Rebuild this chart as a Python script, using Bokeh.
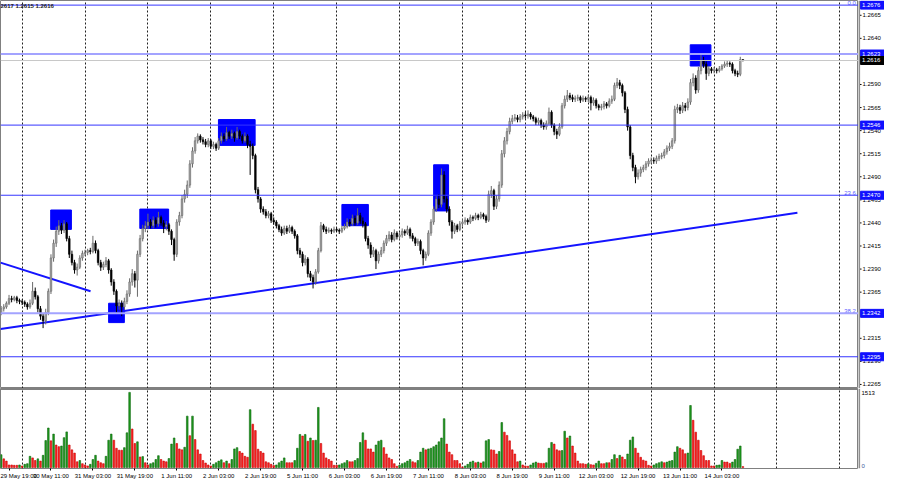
from bokeh.plotting import figure
from bokeh.layouts import column, row
from bokeh.models import (ColumnDataSource, Range1d, FixedTicker, Span, Label, Grid)
from bokeh.core.properties import value
from bokeh.embed import file_html
from bokeh.resources import INLINE

# ---------------- data (GBPUSD H1, 29 May 16:00 -> 14 Jun 11:00) ----------------
open_ = [
    1.2343, 1.2347, 1.2349, 1.2353, 1.2358, 1.2357, 1.2359, 1.2356,
    1.2355, 1.2354, 1.2352, 1.2349, 1.2353, 1.2366, 1.2360, 1.2347, 1.2339, 1.2334, 1.2343, 1.2366, 1.2402, 1.2418, 1.2431, 1.2437, 1.2432, 1.2439, 1.2423, 1.2406, 1.2397, 1.2389, 1.2392, 1.2402,
    1.2407, 1.2408, 1.2410, 1.2409, 1.2418, 1.2410, 1.2397, 1.2392, 1.2395, 1.2399, 1.2389, 1.2376, 1.2366, 1.2350, 1.2353, 1.2349, 1.2355, 1.2363, 1.2376, 1.2385, 1.2378, 1.2406, 1.2423, 1.2434,
    1.2437, 1.2441, 1.2437, 1.2443, 1.2439, 1.2446, 1.2440, 1.2436, 1.2438, 1.2431, 1.2422, 1.2406, 1.2441, 1.2448, 1.2466, 1.2471, 1.2481, 1.2504, 1.2518, 1.2529, 1.2534, 1.2530, 1.2528, 1.2525,
    1.2529, 1.2523, 1.2525, 1.2521, 1.2529, 1.2534, 1.2531, 1.2538, 1.2534, 1.2537, 1.2532, 1.2539, 1.2534, 1.2529, 1.2534, 1.2525, 1.2523, 1.2513, 1.2476, 1.2466, 1.2455, 1.2452, 1.2448, 1.2450,
    1.2443, 1.2441, 1.2437, 1.2433, 1.2429, 1.2434, 1.2431, 1.2435, 1.2431, 1.2426, 1.2410, 1.2406, 1.2397, 1.2401, 1.2385, 1.2381, 1.2376, 1.2387, 1.2410, 1.2437, 1.2433, 1.2431, 1.2432, 1.2431,
    1.2433, 1.2432, 1.2431, 1.2434, 1.2436, 1.2441, 1.2439, 1.2445, 1.2440, 1.2448, 1.2442, 1.2439, 1.2423, 1.2416, 1.2406, 1.2410, 1.2399, 1.2406, 1.2410, 1.2418, 1.2423, 1.2427, 1.2422, 1.2429,
    1.2425, 1.2427, 1.2431, 1.2429, 1.2433, 1.2426, 1.2423, 1.2418, 1.2420, 1.2410, 1.2402, 1.2406, 1.2429, 1.2441, 1.2455, 1.2466, 1.2460, 1.2492, 1.2466, 1.2455, 1.2441, 1.2431, 1.2437, 1.2433,
    1.2439, 1.2441, 1.2443, 1.2441, 1.2446, 1.2445, 1.2448, 1.2446, 1.2449, 1.2447, 1.2443, 1.2471, 1.2475, 1.2458, 1.2466, 1.2481, 1.2515, 1.2529, 1.2539, 1.2550, 1.2553, 1.2554, 1.2552, 1.2555,
    1.2557, 1.2556, 1.2558, 1.2555, 1.2553, 1.2549, 1.2551, 1.2546, 1.2544, 1.2548, 1.2560, 1.2546, 1.2539, 1.2536, 1.2544, 1.2567, 1.2574, 1.2578, 1.2576, 1.2574, 1.2575, 1.2576, 1.2573, 1.2575,
    1.2574, 1.2576, 1.2570, 1.2573, 1.2567, 1.2565, 1.2566, 1.2569, 1.2567, 1.2572, 1.2574, 1.2589, 1.2592, 1.2589, 1.2581, 1.2563, 1.2544, 1.2513, 1.2500, 1.2490, 1.2494, 1.2498, 1.2500, 1.2504,
    1.2507, 1.2508, 1.2507, 1.2510, 1.2512, 1.2513, 1.2517, 1.2521, 1.2523, 1.2529, 1.2563, 1.2565, 1.2562, 1.2567, 1.2565, 1.2571, 1.2592, 1.2597, 1.2584, 1.2605, 1.2616, 1.2612, 1.2602, 1.2607,
    1.2605, 1.2606, 1.2605, 1.2607, 1.2610, 1.2612, 1.2613, 1.2612, 1.2605, 1.2602, 1.2601, 1.2617,
]
high = [
    1.2350, 1.2352, 1.2355, 1.2362, 1.2361, 1.2361, 1.2361, 1.2358,
    1.2357, 1.2356, 1.2354, 1.2357, 1.2376, 1.2370, 1.2362, 1.2350, 1.2342, 1.2347, 1.2369, 1.2406, 1.2422, 1.2436, 1.2443, 1.2440, 1.2443, 1.2441, 1.2426, 1.2410, 1.2400, 1.2396, 1.2405, 1.2410,
    1.2411, 1.2412, 1.2413, 1.2426, 1.2421, 1.2412, 1.2400, 1.2398, 1.2403, 1.2401, 1.2391, 1.2379, 1.2368, 1.2357, 1.2356, 1.2359, 1.2367, 1.2380, 1.2390, 1.2388, 1.2410, 1.2427, 1.2438, 1.2442,
    1.2450, 1.2444, 1.2447, 1.2446, 1.2452, 1.2448, 1.2443, 1.2442, 1.2440, 1.2433, 1.2424, 1.2444, 1.2452, 1.2470, 1.2476, 1.2486, 1.2508, 1.2522, 1.2533, 1.2537, 1.2536, 1.2533, 1.2531, 1.2532,
    1.2531, 1.2528, 1.2527, 1.2532, 1.2538, 1.2537, 1.2544, 1.2540, 1.2541, 1.2539, 1.2544, 1.2541, 1.2536, 1.2538, 1.2536, 1.2529, 1.2526, 1.2515, 1.2479, 1.2468, 1.2458, 1.2455, 1.2453, 1.2452,
    1.2446, 1.2443, 1.2439, 1.2436, 1.2437, 1.2437, 1.2438, 1.2437, 1.2433, 1.2428, 1.2413, 1.2409, 1.2405, 1.2403, 1.2388, 1.2384, 1.2390, 1.2413, 1.2441, 1.2439, 1.2436, 1.2435, 1.2434, 1.2436,
    1.2435, 1.2434, 1.2437, 1.2439, 1.2445, 1.2444, 1.2449, 1.2448, 1.2456, 1.2451, 1.2446, 1.2441, 1.2426, 1.2419, 1.2414, 1.2412, 1.2409, 1.2414, 1.2421, 1.2427, 1.2431, 1.2430, 1.2433, 1.2431,
    1.2430, 1.2434, 1.2433, 1.2437, 1.2435, 1.2429, 1.2425, 1.2423, 1.2422, 1.2412, 1.2409, 1.2432, 1.2444, 1.2458, 1.2469, 1.2471, 1.2499, 1.2496, 1.2469, 1.2458, 1.2443, 1.2440, 1.2439, 1.2442,
    1.2444, 1.2446, 1.2445, 1.2449, 1.2448, 1.2451, 1.2450, 1.2452, 1.2451, 1.2449, 1.2475, 1.2480, 1.2477, 1.2470, 1.2485, 1.2519, 1.2533, 1.2543, 1.2554, 1.2557, 1.2558, 1.2557, 1.2558, 1.2560,
    1.2560, 1.2562, 1.2560, 1.2557, 1.2555, 1.2554, 1.2553, 1.2549, 1.2551, 1.2565, 1.2562, 1.2548, 1.2542, 1.2548, 1.2570, 1.2578, 1.2584, 1.2581, 1.2579, 1.2578, 1.2579, 1.2578, 1.2578, 1.2577,
    1.2579, 1.2578, 1.2576, 1.2575, 1.2569, 1.2569, 1.2572, 1.2571, 1.2575, 1.2578, 1.2592, 1.2597, 1.2595, 1.2591, 1.2583, 1.2566, 1.2546, 1.2516, 1.2503, 1.2498, 1.2501, 1.2503, 1.2507, 1.2510,
    1.2511, 1.2511, 1.2513, 1.2515, 1.2516, 1.2520, 1.2524, 1.2527, 1.2532, 1.2567, 1.2569, 1.2568, 1.2571, 1.2570, 1.2575, 1.2596, 1.2602, 1.2600, 1.2609, 1.2622, 1.2620, 1.2615, 1.2610, 1.2609,
    1.2609, 1.2608, 1.2610, 1.2612, 1.2615, 1.2616, 1.2615, 1.2614, 1.2607, 1.2605, 1.2620, 1.2617,
]
low = [
    1.2340, 1.2344, 1.2347, 1.2351, 1.2354, 1.2355, 1.2353, 1.2352,
    1.2351, 1.2349, 1.2346, 1.2347, 1.2351, 1.2357, 1.2343, 1.2335, 1.2326, 1.2330, 1.2340, 1.2363, 1.2398, 1.2414, 1.2427, 1.2428, 1.2429, 1.2420, 1.2402, 1.2394, 1.2385, 1.2383, 1.2390, 1.2399,
    1.2404, 1.2405, 1.2406, 1.2407, 1.2407, 1.2394, 1.2388, 1.2389, 1.2392, 1.2385, 1.2372, 1.2362, 1.2343, 1.2346, 1.2339, 1.2346, 1.2352, 1.2360, 1.2372, 1.2370, 1.2360, 1.2403, 1.2420, 1.2430,
    1.2433, 1.2434, 1.2434, 1.2435, 1.2436, 1.2437, 1.2429, 1.2432, 1.2427, 1.2416, 1.2399, 1.2403, 1.2437, 1.2445, 1.2462, 1.2467, 1.2478, 1.2500, 1.2515, 1.2526, 1.2527, 1.2525, 1.2522, 1.2522,
    1.2520, 1.2520, 1.2518, 1.2519, 1.2526, 1.2528, 1.2529, 1.2531, 1.2531, 1.2528, 1.2530, 1.2531, 1.2526, 1.2527, 1.2521, 1.2492, 1.2509, 1.2472, 1.2462, 1.2451, 1.2449, 1.2445, 1.2445, 1.2440,
    1.2438, 1.2434, 1.2430, 1.2426, 1.2427, 1.2428, 1.2429, 1.2428, 1.2423, 1.2406, 1.2402, 1.2393, 1.2394, 1.2381, 1.2377, 1.2369, 1.2373, 1.2385, 1.2408, 1.2430, 1.2428, 1.2429, 1.2428, 1.2429,
    1.2430, 1.2428, 1.2429, 1.2432, 1.2434, 1.2436, 1.2437, 1.2437, 1.2438, 1.2439, 1.2435, 1.2420, 1.2412, 1.2402, 1.2403, 1.2390, 1.2396, 1.2403, 1.2407, 1.2415, 1.2420, 1.2419, 1.2420, 1.2422,
    1.2422, 1.2424, 1.2426, 1.2427, 1.2423, 1.2420, 1.2415, 1.2415, 1.2406, 1.2394, 1.2399, 1.2404, 1.2426, 1.2438, 1.2452, 1.2456, 1.2457, 1.2462, 1.2451, 1.2437, 1.2423, 1.2428, 1.2430, 1.2431,
    1.2436, 1.2438, 1.2438, 1.2439, 1.2442, 1.2443, 1.2443, 1.2444, 1.2444, 1.2440, 1.2441, 1.2467, 1.2454, 1.2455, 1.2463, 1.2478, 1.2511, 1.2525, 1.2536, 1.2547, 1.2550, 1.2549, 1.2549, 1.2552,
    1.2553, 1.2553, 1.2552, 1.2550, 1.2546, 1.2546, 1.2543, 1.2541, 1.2541, 1.2546, 1.2543, 1.2535, 1.2531, 1.2534, 1.2542, 1.2564, 1.2571, 1.2573, 1.2571, 1.2571, 1.2572, 1.2570, 1.2571, 1.2571,
    1.2571, 1.2562, 1.2567, 1.2564, 1.2562, 1.2562, 1.2563, 1.2564, 1.2565, 1.2569, 1.2572, 1.2586, 1.2585, 1.2577, 1.2559, 1.2540, 1.2509, 1.2496, 1.2483, 1.2487, 1.2490, 1.2495, 1.2497, 1.2501,
    1.2504, 1.2504, 1.2504, 1.2507, 1.2509, 1.2510, 1.2514, 1.2518, 1.2520, 1.2526, 1.2559, 1.2558, 1.2559, 1.2561, 1.2562, 1.2568, 1.2588, 1.2580, 1.2581, 1.2601, 1.2608, 1.2595, 1.2599, 1.2602,
    1.2602, 1.2602, 1.2603, 1.2605, 1.2608, 1.2609, 1.2609, 1.2602, 1.2599, 1.2598, 1.2599, 1.2615,
]
close = [
    1.2347, 1.2349, 1.2353, 1.2358, 1.2357, 1.2359, 1.2356, 1.2355,
    1.2354, 1.2352, 1.2349, 1.2353, 1.2366, 1.2360, 1.2347, 1.2339, 1.2334, 1.2343, 1.2366, 1.2402, 1.2418, 1.2431, 1.2437, 1.2432, 1.2439, 1.2423, 1.2406, 1.2397, 1.2389, 1.2392, 1.2402, 1.2407,
    1.2408, 1.2410, 1.2409, 1.2418, 1.2410, 1.2397, 1.2392, 1.2395, 1.2399, 1.2389, 1.2376, 1.2366, 1.2350, 1.2353, 1.2349, 1.2355, 1.2363, 1.2376, 1.2385, 1.2378, 1.2406, 1.2423, 1.2434, 1.2437,
    1.2441, 1.2437, 1.2443, 1.2439, 1.2446, 1.2440, 1.2436, 1.2438, 1.2431, 1.2422, 1.2406, 1.2441, 1.2448, 1.2466, 1.2471, 1.2481, 1.2504, 1.2518, 1.2529, 1.2534, 1.2530, 1.2528, 1.2525, 1.2529,
    1.2523, 1.2525, 1.2521, 1.2529, 1.2534, 1.2531, 1.2538, 1.2534, 1.2537, 1.2532, 1.2539, 1.2534, 1.2529, 1.2534, 1.2525, 1.2523, 1.2513, 1.2476, 1.2466, 1.2455, 1.2452, 1.2448, 1.2450, 1.2443,
    1.2441, 1.2437, 1.2433, 1.2429, 1.2434, 1.2431, 1.2435, 1.2431, 1.2426, 1.2410, 1.2406, 1.2397, 1.2401, 1.2385, 1.2381, 1.2376, 1.2387, 1.2410, 1.2437, 1.2433, 1.2431, 1.2432, 1.2431, 1.2433,
    1.2432, 1.2431, 1.2434, 1.2436, 1.2441, 1.2439, 1.2445, 1.2440, 1.2448, 1.2442, 1.2439, 1.2423, 1.2416, 1.2406, 1.2410, 1.2399, 1.2406, 1.2410, 1.2418, 1.2423, 1.2427, 1.2422, 1.2429, 1.2425,
    1.2427, 1.2431, 1.2429, 1.2433, 1.2426, 1.2423, 1.2418, 1.2420, 1.2410, 1.2402, 1.2406, 1.2429, 1.2441, 1.2455, 1.2466, 1.2460, 1.2492, 1.2466, 1.2455, 1.2441, 1.2431, 1.2437, 1.2433, 1.2439,
    1.2441, 1.2443, 1.2441, 1.2446, 1.2445, 1.2448, 1.2446, 1.2449, 1.2447, 1.2443, 1.2471, 1.2475, 1.2458, 1.2466, 1.2481, 1.2515, 1.2529, 1.2539, 1.2550, 1.2553, 1.2554, 1.2552, 1.2555, 1.2557,
    1.2556, 1.2558, 1.2555, 1.2553, 1.2549, 1.2551, 1.2546, 1.2544, 1.2548, 1.2560, 1.2546, 1.2539, 1.2536, 1.2544, 1.2567, 1.2574, 1.2578, 1.2576, 1.2574, 1.2575, 1.2576, 1.2573, 1.2575, 1.2574,
    1.2576, 1.2570, 1.2573, 1.2567, 1.2565, 1.2566, 1.2569, 1.2567, 1.2572, 1.2574, 1.2589, 1.2592, 1.2589, 1.2581, 1.2563, 1.2544, 1.2513, 1.2500, 1.2490, 1.2494, 1.2498, 1.2500, 1.2504, 1.2507,
    1.2508, 1.2507, 1.2510, 1.2512, 1.2513, 1.2517, 1.2521, 1.2523, 1.2529, 1.2563, 1.2565, 1.2562, 1.2567, 1.2565, 1.2571, 1.2592, 1.2597, 1.2584, 1.2605, 1.2616, 1.2612, 1.2602, 1.2607, 1.2605,
    1.2606, 1.2605, 1.2607, 1.2610, 1.2612, 1.2613, 1.2612, 1.2605, 1.2602, 1.2601, 1.2617, 1.2616,
]
volume = [
    259, 175, 130, 52, 52, 45, 45, 52,
    32, 65, 78, 226, 194, 142, 175, 130, 246, 543, 796, 537, 673, 453, 420, 433, 602, 718, 453, 356, 291, 116, 142, 78,
    52, 32, 65, 162, 246, 130, 97, 78, 226, 550, 673, 550, 388, 349, 349, 401, 699, 1513, 776, 485, 518, 213, 220, 97,
    52, 78, 97, 162, 239, 162, 130, 116, 181, 472, 595, 485, 375, 356, 408, 1035, 641, 1035, 563, 356, 272, 142, 91, 52,
    32, 65, 97, 130, 155, 97, 130, 78, 162, 375, 401, 323, 291, 226, 207, 1165, 873, 744, 369, 323, 291, 116, 97, 65,
    39, 52, 97, 130, 194, 97, 97, 97, 142, 388, 666, 634, 666, 530, 595, 543, 550, 1210, 485, 291, 194, 162, 130, 45,
    45, 52, 78, 97, 142, 116, 116, 142, 181, 505, 699, 550, 375, 375, 311, 453, 530, 550, 401, 272, 194, 162, 78, 26,
    45, 78, 97, 130, 162, 116, 97, 142, 311, 388, 356, 375, 388, 420, 453, 518, 595, 983, 472, 311, 259, 142, 142, 78,
    13, 32, 65, 110, 130, 97, 110, 91, 116, 537, 563, 356, 349, 272, 323, 906, 712, 647, 537, 356, 272, 116, 130, 52,
    32, 26, 52, 91, 110, 91, 84, 84, 97, 388, 505, 472, 356, 336, 343, 731, 595, 634, 433, 291, 130, 78, 78, 65,
    78, 58, 52, 84, 130, 78, 78, 97, 97, 162, 259, 181, 246, 213, 162, 272, 550, 615, 388, 291, 207, 149, 130, 45,
    32, 52, 78, 97, 116, 97, 110, 130, 142, 311, 420, 388, 356, 278, 291, 1249, 951, 712, 550, 343, 239, 142, 142, 32,
    32, 45, 52, 142, 110, 110, 84, 110, 162, 369, 433, 19,
]

# day separators (bar index of each midnight, incl. the empty future area)
day_start_bars = [8, 32, 56, 80, 104, 128, 152, 176, 200, 224, 248, 272, 296, 320]
# time-axis labels
label_bars = [3, 19, 35, 51, 67, 83, 99, 115, 131, 147, 163, 179, 195, 211, 227, 243, 259, 275]
label_texts = ["29 May 19:00", "30 May 11:00", "31 May 03:00", "31 May 19:00", "1 Jun 11:00",
               "2 Jun 03:00", "2 Jun 19:00", "5 Jun 11:00", "6 Jun 03:00", "6 Jun 19:00",
               "7 Jun 11:00", "8 Jun 03:00", "8 Jun 19:00", "9 Jun 11:00", "12 Jun 03:00",
               "12 Jun 19:00", "13 Jun 11:00", "14 Jun 03:00"]
price_ticks = [1.2265, 1.2290, 1.2315, 1.2340, 1.2365, 1.2390, 1.2415, 1.2440, 1.2465,
               1.2490, 1.2515, 1.2540, 1.2565, 1.2590, 1.2615, 1.2640, 1.2665]
volume_max_label = 1513
volume_zero_label = 0

# horizontal levels
level_values = [1.2676, 1.2623, 1.2546, 1.2470, 1.2342, 1.2295]
level_light = [False, True, False, False, True, False]
bid_price = 1.2616
fib_levels = [1.2676, 1.2470, 1.2342]
fib_texts = ["0.0", "23.6", "38.2"]

# marked zones (bar index range, price range)
box_left = [18.9, 41.0, 52.9, 82.9, 130.0, 165.0, 262.9]
box_right = [26.8, 47.0, 63.9, 96.9, 140.1, 170.7, 270.8]
box_top = [1.2454, 1.2353, 1.2455, 1.2552, 1.2460, 1.2503, 1.2633]
box_bottom = [1.2433, 1.2332, 1.2434, 1.2524, 1.2437, 1.2453, 1.2610]

# trend lines (bar index, price)
support_x = [-0.25, 303.8]
support_y = [1.2325, 1.2451]
resist_x = [-0.25, 34.1]
resist_y = [1.2397, 1.2366]

header_text = "2617 1.2615 1.2616"

# ---------------- layout ----------------
FONT = "Liberation Sans"
W = 884
AX = 26          # width of the price-scale strip
MW = W - AX      # main chart width
PH = 388
VH = 96
VB = 16          # room for time labels
X0, X1 = -0.25, 327.1
P0, P1 = 1.22606, 1.2681
V0, V1 = -19, 1591
GRID = dict(grid_line_color="#202020", grid_line_dash="2 2", grid_line_width=1)

n = len(close)
bars = list(range(n))
up = [c >= o for o, c in zip(open_, close)]
src = ColumnDataSource(dict(
    x=bars, h=high, l=low,
    top=[max(o, c) for o, c in zip(open_, close)],
    bot=[min(o, c) for o, c in zip(open_, close)],
    bc=["#a9a9a9" if u else "#000000" for u in up],
    wc=["#6a6a6a" if u else "#000000" for u in up],
))

def bare(fig):
    fig.grid.visible = False
    fig.min_border_left = 0
    fig.min_border_right = 0
    fig.min_border_top = 0

p = figure(width=MW, height=PH, output_backend="svg", toolbar_location=None,
           x_range=Range1d(X0, X1), y_range=Range1d(P0, P1),
           x_axis_location=None, y_axis_location=None, min_border_bottom=0)
bare(p)
p.outline_line_color = "#808080"
p.add_layout(Grid(dimension=0, ticker=FixedTicker(ticks=day_start_bars), **GRID))

# zones
p.quad(left=box_left, right=box_right, top=box_top, bottom=box_bottom,
       fill_color="#0000ff", line_color="#0000ff")

# levels
for lv, light in zip(level_values, level_light):
    p.add_layout(Span(location=lv, dimension="width",
                      line_color="#a3a3ff" if light else "#3535ff",
                      line_width=2 if light else 1))
p.add_layout(Span(location=bid_price, dimension="width", line_color="#c8c8c8", line_width=1))

# trend lines
p.line(support_x, support_y, line_color="#1414ff", line_width=2)
p.line(resist_x, resist_y, line_color="#1414ff", line_width=2)

# candles
p.segment(x0="x", y0="h", x1="x", y1="l", line_color="wc", line_width=1, source=src)
p.vbar(x="x", width=0.62, top="top", bottom="bot", fill_color="bc", line_color="wc",
       line_width=0.6, source=src)

# fib labels
p.text(x=[X1 - 1.0] * len(fib_levels), y=fib_levels, text=fib_texts,
       text_align="right", text_baseline="bottom", text_font=value(FONT),
       text_font_size="6px", text_color="#5c5cff")

p.add_layout(Label(x=0, y=PH - 2, x_units="screen", y_units="screen", text=header_text,
                   text_font=FONT, text_font_size="6px", text_color="#202020",
                   text_baseline="top", text_font_style="bold"))

# ---------------- price scale strip ----------------
ps = figure(width=AX, height=PH, output_backend="svg", toolbar_location=None,
            x_range=Range1d(0, AX), y_range=p.y_range,
            x_axis_location=None, y_axis_location=None, min_border_bottom=0)
bare(ps)
ps.outline_line_color = None
ps.add_layout(Span(location=0.6, dimension="height", line_color="#909090", line_width=2))
ps.segment(x0=[1.0] * len(price_ticks), y0=price_ticks, x1=[3.0] * len(price_ticks),
           y1=price_ticks, line_color="#000000", line_width=1)
ps.text(x=[4.0] * len(price_ticks), y=price_ticks, text=[f"{t:.4f}" for t in price_ticks],
        text_baseline="middle", text_align="left", text_font=value(FONT),
        text_font_size="6px", text_color="#000000")
lvl_all = level_values + [bid_price]
lvl_bg = ["#1010ff"] * len(level_values) + ["#000000"]
ps.rect(x=[14.0] * len(lvl_all), y=lvl_all, width=[24.0] * len(lvl_all), height=8,
        height_units="screen", fill_color=lvl_bg, line_color=lvl_bg)
ps.text(x=[3.5] * len(lvl_all), y=lvl_all, text=[f"{t:.4f}" for t in lvl_all],
        text_baseline="middle", text_align="left", text_font=value(FONT),
        text_font_size="6px", text_color="#ffffff")

# ---------------- volume panel ----------------
vcol = []
vline = []
for i, vv in enumerate(volume):
    rising = i == 0 or vv > volume[i - 1]
    vcol.append("#1e9b1e" if rising else "#ff2424")
    vline.append("#0b660b" if rising else "#c80000")
vsrc = ColumnDataSource(dict(x=bars, v=volume, fc=vcol, lc=vline))

v = figure(width=MW, height=VH, output_backend="svg", toolbar_location=None,
           x_range=p.x_range, y_range=Range1d(V0, V1),
           x_axis_location="below", y_axis_location=None, min_border_bottom=VB)
bare(v)
v.outline_line_color = "#808080"
v.add_layout(Grid(dimension=0, ticker=FixedTicker(ticks=day_start_bars), **GRID))
v.add_layout(Span(location=V1, dimension="width", line_color="#808080", line_width=3))
v.vbar(x="x", width=0.62, top="v", bottom=0, fill_color="fc", line_color="lc",
       line_width=0.6, source=vsrc)

vx = v.xaxis[0]
vx.ticker = FixedTicker(ticks=label_bars)
vx.major_label_overrides = {b: t for b, t in zip(label_bars, label_texts)}
vx.major_label_text_align = "left"
vx.major_label_text_font = FONT
vx.major_label_text_font_size = "6px"
vx.major_label_text_color = "#000000"
vx.major_tick_out = 2
vx.major_tick_in = 0
vx.minor_tick_out = 0
vx.minor_tick_in = 0
vx.major_label_standoff = 2
vx.axis_line_color = None

# volume scale strip
vs = figure(width=AX, height=VH, output_backend="svg", toolbar_location=None,
            x_range=Range1d(0, AX), y_range=v.y_range,
            x_axis_location=None, y_axis_location=None, min_border_bottom=VB)
bare(vs)
vs.outline_line_color = None
vs.add_layout(Span(location=0.6, dimension="height", line_color="#909090", line_width=2))
vs.text(x=[3.0], y=[V1], text=[str(volume_max_label)], text_baseline="top", y_offset=2,
        text_align="left", text_font=value(FONT), text_font_size="6px", text_color="#000000")
vs.text(x=[3.0], y=[volume_zero_label], text=[str(volume_zero_label)], text_baseline="bottom",
        text_align="left", text_font=value(FONT), text_font_size="6px", text_color="#3a5a9a")

layout = column(row(p, ps, spacing=0), row(v, vs, spacing=0), spacing=0)
open("out.html", "w").write(file_html(layout, INLINE))
